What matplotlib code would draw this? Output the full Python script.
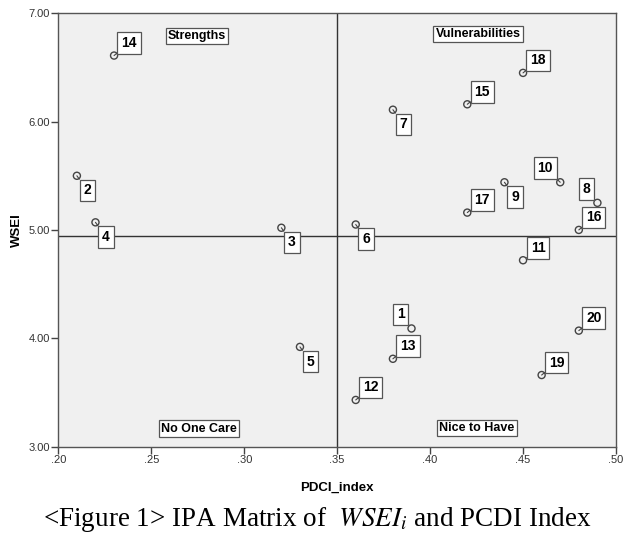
import matplotlib
matplotlib.use("Agg")
import matplotlib.pyplot as plt

# Data
ids = [1, 2, 3, 4, 5, 6, 7, 8, 9, 10, 11, 12, 13, 14, 15, 16, 17, 18, 19, 20]
pdci = [0.39, 0.21, 0.32, 0.22, 0.33, 0.36, 0.38, 0.49, 0.44, 0.47,
        0.45, 0.36, 0.38, 0.23, 0.42, 0.48, 0.42, 0.45, 0.46, 0.48]
wsei = [4.09, 5.50, 5.02, 5.07, 3.92, 5.05, 6.11, 5.25, 5.44, 5.44,
        4.72, 3.43, 3.81, 6.61, 6.16, 5.00, 5.16, 6.45, 3.66, 4.07]
label_pos = ['ul', 'lr', 'lr', 'lr', 'lr', 'lr', 'lr', 'ul', 'lr', 'ul2',
             'ur', 'ur', 'ur', 'ur', 'ur', 'ur', 'ur', 'ur', 'ur', 'ur']
x_ref = 0.35
y_ref = 4.94
quadrants = ["Strengths", "Vulnerabilities", "No One Care", "Nice to Have"]
quad_x = [0.2746, 0.4259, 0.2756, 0.4252]
quad_y = [6.79, 6.81, 3.165, 3.17]
xticks = [0.20, 0.25, 0.30, 0.35, 0.40, 0.45, 0.50]
xticklabels = [".20", ".25", ".30", ".35", ".40", ".45", ".50"]
yticks = [3.0, 4.0, 5.0, 6.0, 7.0]
yticklabels = ["3.00", "4.00", "5.00", "6.00", "7.00"]

offsets = {'ur': (15, 12.5), 'lr': (10.5, -14.7), 'ul': (-11, 14), 'ul2': (-15, 14)}

plt.rcParams['font.family'] = ['Liberation Sans', 'DejaVu Sans']
fig = plt.figure(figsize=(6.42, 5.44), dpi=100)
ax = fig.add_axes([0.0908, 0.1792, 0.8687, 0.7963])
ax.set_facecolor('#f0f0f0')
ax.set_xlim(0.20, 0.50)
ax.set_ylim(3.0, 7.0)

ax.axvline(x_ref, color='#333333', lw=1.0, zorder=1)
ax.axhline(y_ref, color='#333333', lw=1.0, zorder=1)

ax.scatter(pdci, wsei, s=26, facecolors='none', edgecolors='#444444', linewidths=1.0, zorder=3)

for i, x, y, p in zip(ids, pdci, wsei, label_pos):
    ax.annotate(str(i), xy=(x, y), xytext=offsets[p], textcoords='offset pixels',
                ha='center', va='center', fontsize=10, fontweight='bold', color='black',
                bbox=dict(boxstyle='square,pad=0.28', fc='white', ec='#555555', lw=0.9),
                arrowprops=dict(arrowstyle='-', color='#444444', lw=0.8, shrinkA=0, shrinkB=3),
                zorder=4)

for t, x, y in zip(quadrants, quad_x, quad_y):
    ax.text(x, y, t, ha='center', va='center', fontsize=9, fontweight='bold', color='black',
            bbox=dict(boxstyle='square,pad=0.18', fc='white', ec='#555555', lw=0.9), zorder=4)

ax.set_xticks(xticks)
ax.set_xticklabels(xticklabels)
ax.set_yticks(yticks)
ax.set_yticklabels(yticklabels)
ax.tick_params(direction='out', length=5, width=1, color='#444444', labelsize=8, labelcolor='#333333', pad=1)
for s in ax.spines.values():
    s.set_color('#555555')
    s.set_linewidth(1.0)

ax.set_xlabel("PDCI_index", fontsize=9.5, fontweight='bold', labelpad=12)
ax.set_ylabel("WSEI", fontsize=9.5, fontweight='bold', labelpad=4)

plt.rcParams['mathtext.fontset'] = 'stix'
fig.text(0.495, 0.045, r"<Figure 1> IPA Matrix of  $WSEI_i$ and PCDI Index",
         ha='center', va='center', fontsize=19.5, family=['Liberation Serif', 'DejaVu Serif'])

fig.savefig("out.png", dpi=100)
